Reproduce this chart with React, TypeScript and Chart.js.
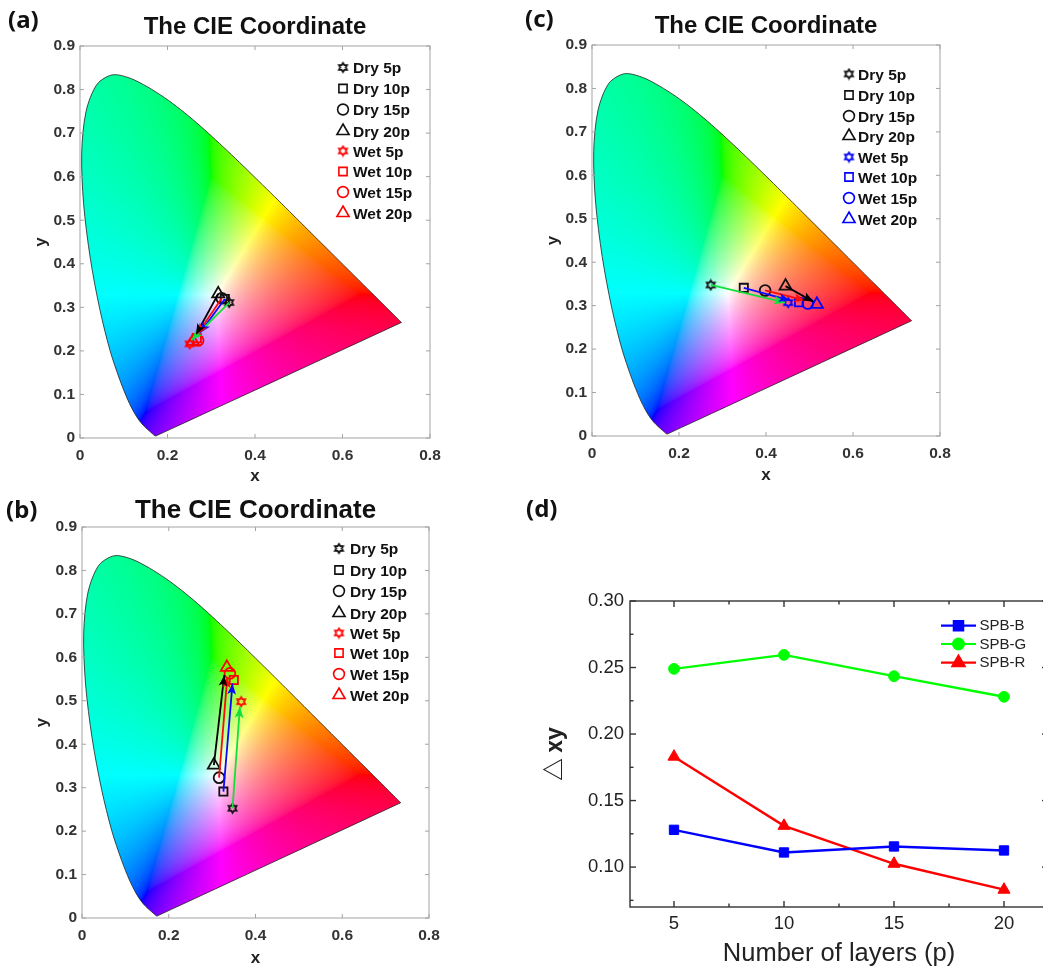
import React, { useEffect, useRef } from "react";
import { Chart, registerables } from "chart.js";
import { drawPoint } from "chart.js/helpers";

Chart.register(...registerables);

// Spectral locus (CIE 1931, 380-680 nm)
const locusX = [0.1741,0.174,0.1738,0.1736,0.1733,0.173,0.1726,0.1721,0.1714,0.1703,0.1689,0.1669,0.1644,0.1611,0.1566,0.151,0.144,0.1355,0.1241,0.1096,0.0913,0.0687,0.0454,0.0235,0.0082,0.0039,0.0139,0.0389,0.0743,0.1142,0.1547,0.1929,0.2296,0.2658,0.3016,0.3373,0.3731,0.4087,0.4441,0.4788,0.5125,0.5448,0.5752,0.6029,0.627,0.6482,0.6658,0.6801,0.6915,0.7006,0.7079,0.714,0.719,0.723,0.726,0.7283,0.73,0.732,0.7334,0.7344,0.7347,0.1741];
const locusY = [0.005,0.005,0.0049,0.0049,0.0048,0.0048,0.0048,0.0048,0.0051,0.0058,0.0069,0.0086,0.0109,0.0138,0.0177,0.0227,0.0297,0.0399,0.0578,0.0868,0.1327,0.2007,0.295,0.4127,0.5384,0.6548,0.7502,0.812,0.8338,0.8262,0.8059,0.7816,0.7543,0.7243,0.6923,0.6589,0.6245,0.5896,0.5547,0.5202,0.4866,0.4544,0.4242,0.3965,0.3725,0.3514,0.334,0.3197,0.3083,0.2993,0.292,0.2859,0.2809,0.277,0.274,0.2717,0.27,0.268,0.2666,0.2656,0.2653,0.005];

const layers = ["5p", "10p", "15p", "20p"];
const cieXTicks = [0, 0.2, 0.4, 0.6, 0.8];
const cieYTicks = [0, 0.1, 0.2, 0.3, 0.4, 0.5, 0.6, 0.7, 0.8, 0.9];

const aDryX = [0.341, 0.331, 0.324, 0.316];
const aDryY = [0.311, 0.319, 0.321, 0.331];
const aWetX = [0.251, 0.267, 0.27, 0.258];
const aWetY = [0.216, 0.229, 0.224, 0.222];
const aTipX = [0.255, 0.274, 0.268, 0.265];
const aTipY = [0.225, 0.241, 0.238, 0.237];

const bDryX = [0.347, 0.326, 0.316, 0.304];
const bDryY = [0.2525, 0.291, 0.323, 0.352];
const bWetX = [0.367, 0.35, 0.341, 0.334];
const bWetY = [0.498, 0.548, 0.563, 0.577];
const bTipX = [0.364, 0.347, 0.335, 0.328];
const bTipY = [0.486, 0.54, 0.555, 0.559];

const cDryX = [0.273, 0.349, 0.398, 0.445];
const cDryY = [0.3476, 0.341, 0.335, 0.345];
const cWetX = [0.451, 0.476, 0.496, 0.517];
const cWetY = [0.307, 0.308, 0.305, 0.303];
const cTipX = [0.444, 0.455, 0.49, 0.509];
const cTipY = [0.307, 0.312, 0.312, 0.309];

const dLayers = [5, 10, 15, 20];
const dBlue = [0.128, 0.111, 0.1155, 0.1125];
const dGreen = [0.249, 0.2595, 0.2435, 0.228];
const dRed = [0.183, 0.131, 0.1025, 0.083];
const dYTicks = [0.1, 0.15, 0.2, 0.25, 0.3];
const dYMinor = [0.075, 0.125, 0.175, 0.225, 0.275];
const dXMinor = [7.5, 12.5, 17.5];

const ARROW_COLORS = ["#12e03c", "#0a0aff", "#ff0a0a", "#000000"];
const LABEL_FONT = '"Liberation Sans", Arial, sans-serif';

function hexagram(color: string) {
  const size = 13;
  const c = document.createElement("canvas");
  c.width = size;
  c.height = size;
  const g = c.getContext("2d")!;
  g.strokeStyle = color;
  g.lineWidth = 1.8;
  g.lineJoin = "miter";
  g.beginPath();
  for (let i = 0; i < 12; i++) {
    const r = i % 2 === 0 ? 4.6 : 2.7;
    const a = -Math.PI / 2 + (i * Math.PI) / 6;
    const px = size / 2 + r * Math.cos(a);
    const py = size / 2 + r * Math.sin(a);
    if (i === 0) g.moveTo(px, py);
    else g.lineTo(px, py);
  }
  g.closePath();
  g.stroke();
  return c;
}

function gamma(v: number) {
  return Math.pow(Math.max(0, Math.min(1, v)), 1 / 1.8);
}

function gamutPlugin() {
  let sprite: HTMLCanvasElement | null = null;
  return {
    id: "gamut",
    beforeDatasetsDraw(chart: any) {
      const { ctx, chartArea: a, scales } = chart;
      const w = Math.ceil(a.right - a.left);
      const h = Math.ceil(a.bottom - a.top);
      if (!sprite) {
        sprite = document.createElement("canvas");
        sprite.width = w;
        sprite.height = h;
        const g = sprite.getContext("2d")!;
        const img = g.createImageData(w, h);
        for (let j = 0; j < h; j++) {
          const yv = scales.y.getValueForPixel(a.top + j + 0.5);
          for (let i = 0; i < w; i++) {
            const xv = scales.x.getValueForPixel(a.left + i + 0.5);
            if (yv <= 0.001) continue;
            const X = xv / yv;
            const Z = (1 - xv - yv) / yv;
            let r = 3.2406 * X - 1.5372 - 0.4986 * Z;
            let gg = -0.9689 * X + 1.8758 + 0.0415 * Z;
            let b = 0.0557 * X - 0.204 + 1.057 * Z;
            const lo = Math.min(0, r, gg, b);
            r -= lo;
            gg -= lo;
            b -= lo;
            const m = Math.max(r, gg, b) || 1;
            const k = (j * w + i) * 4;
            img.data[k] = 255 * gamma(r / m);
            img.data[k + 1] = 255 * gamma(gg / m);
            img.data[k + 2] = 255 * gamma(b / m);
            img.data[k + 3] = 255;
          }
        }
        g.putImageData(img, 0, 0);
      }
      const line = chart.getDatasetMeta(0).dataset;
      line.updateControlPoints(a, "x");
      ctx.save();
      ctx.beginPath();
      line.path(ctx);
      ctx.closePath();
      ctx.clip();
      ctx.drawImage(sprite, a.left, a.top);
      ctx.restore();
    },
  };
}

function framePlugin(o: any) {
  return {
    id: "frame",
    afterDraw(chart: any) {
      const { ctx, chartArea: a, scales } = chart;
      ctx.save();
      ctx.strokeStyle = o.color;
      ctx.lineWidth = o.width;
      const line = (x0: number, y0: number, x1: number, y1: number) => {
        ctx.beginPath();
        ctx.moveTo(x0, y0);
        ctx.lineTo(x1, y1);
        ctx.stroke();
      };
      const xt = (v: number, len: number) => {
        const p = scales.x.getPixelForValue(v);
        line(p, a.bottom, p, a.bottom - len);
        line(p, a.top, p, a.top + len);
      };
      const yt = (v: number, len: number) => {
        const p = scales.y.getPixelForValue(v);
        line(a.left, p, a.left + len, p);
        line(a.right, p, a.right - len, p);
      };
      o.xMajor.forEach((v: number) => xt(v, o.major));
      o.yMajor.forEach((v: number) => yt(v, o.major));
      (o.xMinor || []).forEach((v: number) => xt(v, o.minor));
      (o.yMinor || []).forEach((v: number) => yt(v, o.minor));
      ctx.strokeRect(a.left, a.top, a.right - a.left, a.bottom - a.top);
      ctx.restore();
    },
  };
}

const arrowPlugin = {
  id: "arrowHeads",
  afterDatasetsDraw(chart: any) {
    const { ctx, scales } = chart;
    chart.data.datasets.forEach((ds: any) => {
      if (!ds.isArrow) return;
      const [p0, p1] = ds.data;
      const x0 = scales.x.getPixelForValue(p0.x);
      const y0 = scales.y.getPixelForValue(p0.y);
      const x1 = scales.x.getPixelForValue(p1.x);
      const y1 = scales.y.getPixelForValue(p1.y);
      const t = Math.atan2(y1 - y0, x1 - x0);
      ctx.save();
      ctx.translate(x1, y1);
      ctx.rotate(t);
      ctx.fillStyle = ds.borderColor;
      ctx.beginPath();
      ctx.moveTo(0, 0);
      ctx.lineTo(-11, -4.4);
      ctx.lineTo(-8.5, 0);
      ctx.lineTo(-11, 4.4);
      ctx.closePath();
      ctx.fill();
      ctx.restore();
    });
  },
};

function cieLegendPlugin(o: any) {
  return {
    id: "cieLegend",
    afterDraw(chart: any) {
      const { ctx } = chart;
      ctx.save();
      o.items.forEach((it: any, i: number) => {
        const y = o.rows[i];
        ctx.strokeStyle = it.color;
        ctx.fillStyle = "transparent";
        ctx.lineWidth = 1.6;
        drawPoint(ctx, { pointStyle: it.style, radius: it.radius, rotation: 0, borderWidth: 1.6 }, o.markerX, y - 1);
        ctx.fillStyle = "#111";
        ctx.font = `bold 15.5px ${LABEL_FONT}`;
        ctx.textBaseline = "middle";
        ctx.textAlign = "left";
        ctx.fillText(it.label, o.textX, y + 0.5);
      });
      ctx.restore();
    },
  };
}

function dLegendPlugin(o: any) {
  return {
    id: "dLegend",
    afterDraw(chart: any) {
      const { ctx } = chart;
      ctx.save();
      o.items.forEach((it: any, i: number) => {
        const y = o.rows[i];
        ctx.strokeStyle = it.color;
        ctx.fillStyle = it.color;
        ctx.lineWidth = 2.2;
        ctx.beginPath();
        ctx.moveTo(o.x0, y);
        ctx.lineTo(o.x1, y);
        ctx.stroke();
        drawPoint(ctx, { pointStyle: it.style, radius: it.radius, rotation: 0, borderWidth: 1 }, (o.x0 + o.x1) / 2, y);
        ctx.fillStyle = "#222";
        ctx.font = `15px ${LABEL_FONT}`;
        ctx.textBaseline = "middle";
        ctx.textAlign = "left";
        ctx.fillText(it.label, o.textX, y + 0.5);
      });
      ctx.restore();
    },
  };
}

function buildCie(canvas: HTMLCanvasElement, s: any) {
  const stylesFor = (color: string) => [
    { style: hexagram(color), radius: 5 },
    { style: "rect", radius: 5.8 },
    { style: "circle", radius: 5.4 },
    { style: "triangle", radius: 7 },
  ];
  const dry = stylesFor("#111111");
  const wet = stylesFor(s.wetColor);
  const markerDs = (label: string, st: any, color: string, x: number, y: number) => ({
    label,
    data: [{ x, y }],
    showLine: false,
    pointStyle: st.style,
    pointRadius: st.radius,
    pointBorderWidth: 1.8,
    pointBorderColor: color,
    pointBackgroundColor: "rgba(0,0,0,0)",
  });
  const datasets: any[] = [
    {
      label: "locus",
      data: locusX.map((x, i) => ({ x, y: locusY[i] })),
      showLine: true,
      tension: 0.3,
      borderColor: "#222",
      borderWidth: 0.8,
      pointRadius: 0,
      order: 5,
    },
  ];
  layers.forEach((l, i) => {
    datasets.push({ ...markerDs(`Dry ${l}`, dry[i], "#111111", s.dryX[i], s.dryY[i]), order: 3 });
    datasets.push({ ...markerDs(`Wet ${l}`, wet[i], s.wetColor, s.wetX[i], s.wetY[i]), order: 3 });
    datasets.push({
      label: `arrow ${l}`,
      isArrow: true,
      data: [
        { x: s.dryX[i], y: s.dryY[i] },
        { x: s.tipX[i], y: s.tipY[i] },
      ],
      showLine: true,
      borderColor: ARROW_COLORS[i],
      borderWidth: 1.8,
      pointRadius: 0,
      order: 1,
    });
  });
  const legendItems = [
    ...layers.map((l, i) => ({ label: `Dry ${l}`, color: "#111111", ...dry[i] })),
    ...layers.map((l, i) => ({ label: `Wet ${l}`, color: s.wetColor, ...wet[i] })),
  ];
  return new Chart(canvas, {
    type: "scatter",
    data: { datasets },
    plugins: [
      gamutPlugin(),
      arrowPlugin,
      framePlugin({ color: "#a3a3a3", width: 1, major: 4, xMajor: cieXTicks, yMajor: cieYTicks }),
      cieLegendPlugin({ items: legendItems, rows: s.rows, markerX: s.markerX, textX: s.textX }),
    ],
    options: {
      animation: false,
      responsive: false,
      layout: { autoPadding: false, padding: { right: s.padRight, top: 0, bottom: 0, left: 0 } },
      plugins: {
        legend: { display: false },
        tooltip: { enabled: false },
        title: {
          display: true,
          fullSize: false,
          text: "The CIE Coordinate",
          color: "#111",
          font: { family: LABEL_FONT, size: s.titleSize, weight: "bold", lineHeight: 1.2 },
          padding: { top: s.titleTop, bottom: s.titleBottom },
        },
      },
      scales: {
        x: {
          type: "linear",
          min: 0,
          max: 0.8,
          afterFit: (sc: any) => { sc.height = s.axisH; },
          afterBuildTicks: (sc: any) => { sc.ticks = cieXTicks.map((value) => ({ value })); },
          grid: { display: false, drawTicks: false },
          border: { display: false },
          ticks: {
            padding: 8,
            maxRotation: 0,
            autoSkip: false,
            color: "#333",
            font: { family: LABEL_FONT, size: 15.5, weight: "bold" },
            callback: (v: any) => String(Number(Number(v).toFixed(1))),
          },
          title: {
            display: true,
            text: "x",
            color: "#222",
            font: { family: LABEL_FONT, size: 17, weight: "bold", lineHeight: 1.2 },
            padding: { top: 0, bottom: s.xTitlePad },
          },
        },
        y: {
          type: "linear",
          min: 0,
          max: 0.9,
          afterFit: (sc: any) => { sc.width = s.axisW; },
          afterBuildTicks: (sc: any) => { sc.ticks = cieYTicks.map((value) => ({ value })); },
          grid: { display: false, drawTicks: false },
          border: { display: false },
          ticks: {
            padding: 5,
            autoSkip: false,
            color: "#333",
            font: { family: LABEL_FONT, size: 15.5, weight: "bold" },
            callback: (v: any) => String(Number(Number(v).toFixed(1))),
          },
          title: {
            display: true,
            text: "y",
            color: "#222",
            font: { family: LABEL_FONT, size: 17, weight: "bold", lineHeight: 1.2 },
            padding: { top: s.yTitlePad, bottom: 0 },
          },
        },
      },
    } as any,
  });
}

function buildD(canvas: HTMLCanvasElement) {
  const series = [
    { label: "SPB-B", values: dBlue, color: "#0000ff", style: "rect", radius: 6.6 },
    { label: "SPB-G", values: dGreen, color: "#00ff00", style: "circle", radius: 5.4 },
    { label: "SPB-R", values: dRed, color: "#ff0000", style: "triangle", radius: 7 },
  ];
  return new Chart(canvas, {
    type: "scatter",
    data: {
      datasets: series.map((s) => ({
        label: s.label,
        data: dLayers.map((x, i) => ({ x, y: s.values[i] })),
        showLine: true,
        borderColor: s.color,
        borderWidth: 2.4,
        pointStyle: s.style,
        pointRadius: s.radius,
        pointBorderWidth: 1,
        pointBorderColor: s.color,
        pointBackgroundColor: s.color,
        clip: false,
      })),
    },
    plugins: [
      framePlugin({ color: "#333", width: 1.4, major: 6, minor: 3.5, xMajor: dLayers, yMajor: dYTicks, xMinor: dXMinor, yMinor: dYMinor }),
      dLegendPlugin({ items: series, rows: [135.7, 154, 172.7], x0: 411, x1: 446, textX: 449.5 }),
    ],
    options: {
      animation: false,
      responsive: false,
      layout: { autoPadding: false, padding: { right: 22, top: 111, bottom: 0, left: 0 } },
      plugins: { legend: { display: false }, tooltip: { enabled: false } },
      scales: {
        x: {
          type: "linear",
          min: 3,
          max: 22,
          afterFit: (sc: any) => { sc.height = 62; },
          afterBuildTicks: (sc: any) => { sc.ticks = dLayers.map((value) => ({ value })); },
          grid: { display: false, drawTicks: false },
          border: { display: false },
          ticks: { padding: 6, maxRotation: 0, autoSkip: false, color: "#222", font: { family: LABEL_FONT, size: 18.5 }, callback: (v: any) => String(v) },
          title: {
            display: true,
            text: "Number of layers (p)",
            color: "#222",
            font: { family: LABEL_FONT, size: 25.5, lineHeight: 1.2 },
            padding: { top: 0, bottom: 0 },
          },
        },
        y: {
          type: "linear",
          min: 0.07,
          max: 0.3,
          afterFit: (sc: any) => { sc.width = 100; },
          afterBuildTicks: (sc: any) => { sc.ticks = dYTicks.map((value) => ({ value })); },
          grid: { display: false, drawTicks: false },
          border: { display: false },
          ticks: { padding: 6, autoSkip: false, color: "#222", font: { family: LABEL_FONT, size: 18.5 }, callback: (v: any) => Number(v).toFixed(2) },
          title: {
            display: true,
            text: "△ xy",
            color: "#222",
            font: { family: '"Noto Sans CJK KR"', size: 23, weight: "bold", lineHeight: 1.2 },
            padding: { top: 9, bottom: 0 },
          },
        },
      },
    } as any,
  });
}

const panelA = { dryX: aDryX, dryY: aDryY, wetX: aWetX, wetY: aWetY, tipX: aTipX, tipY: aTipY, wetColor: "#ff0000", rows: [68.5, 89.5, 110.5, 132, 152, 172.5, 193, 214], markerX: 343, textX: 353, axisW: 80, axisH: 52, padRight: 80, titleSize: 24, titleTop: 12.6, titleBottom: 4.6, xTitlePad: 3, yTitlePad: 31 };
const panelB = { dryX: bDryX, dryY: bDryY, wetX: bWetX, wetY: bWetY, tipX: bTipX, tipY: bTipY, wetColor: "#ff0000", rows: [59.5, 81, 102, 124, 144, 164, 185, 206], markerX: 339, textX: 350, axisW: 82, axisH: 51, padRight: 81, titleSize: 26, titleTop: 5.4, titleBottom: 0.4, xTitlePad: 0, yTitlePad: 32 };
const panelC = { dryX: cDryX, dryY: cDryY, wetX: cWetX, wetY: cWetY, tipX: cTipX, tipY: cTipY, wetColor: "#0000ff", rows: [75, 96, 117, 137, 158, 178, 199, 220], markerX: 329, textX: 338, axisW: 72, axisH: 54, padRight: 72, titleSize: 24, titleTop: 11.6, titleBottom: 4.6, xTitlePad: 4.4, yTitlePad: 23 };

export default function App() {
  const a = useRef<HTMLCanvasElement>(null);
  const b = useRef<HTMLCanvasElement>(null);
  const c = useRef<HTMLCanvasElement>(null);
  const d = useRef<HTMLCanvasElement>(null);
  useEffect(() => {
    const charts = [
      buildCie(a.current!, panelA),
      buildCie(b.current!, panelB),
      buildCie(c.current!, panelC),
      buildD(d.current!),
    ];
    return () => charts.forEach((ch) => ch.destroy());
  }, []);
  const pos = (left: number, top: number): React.CSSProperties => ({ position: "absolute", left, top });
  const lbl = (left: number, top: number): React.CSSProperties => ({
    position: "absolute",
    left,
    top,
    font: 'bold 24px/32px "Noto Sans", sans-serif',
    color: "#111",
  });
  return (
    <div style={{ position: "fixed", left: 0, top: 0, width: 1043, height: 969, overflow: "hidden", background: "#fff" }}>
      <canvas ref={a} width={510} height={490} style={pos(0, 0)} />
      <canvas ref={b} width={510} height={479} style={pos(0, 490)} />
      <canvas ref={c} width={492} height={490} style={pos(520, 0)} />
      <canvas ref={d} width={540} height={479} style={pos(530, 490)} />
      <div style={lbl(8, 3)}>(a)</div>
      <div style={lbl(6, 493)}>(b)</div>
      <div style={lbl(525, 2)}>(c)</div>
      <div style={lbl(526, 492)}>(d)</div>
    </div>
  );
}
